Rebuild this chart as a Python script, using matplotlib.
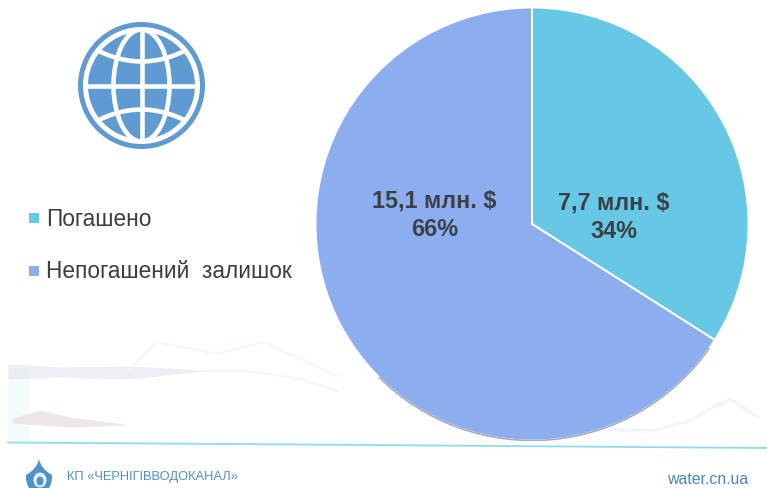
import matplotlib
matplotlib.use("Agg")
import matplotlib.pyplot as plt
from matplotlib.patches import Arc, Circle, Ellipse, PathPatch, Rectangle
from matplotlib.path import Path

W, H = 767, 489

labels = ["Погашено", "Непогашений  залишок"]
shares = [34, 66]
slice_text = ["7,7 млн. $\n34%", "15,1 млн. $\n66%"]
colors = ["#67c8e6", "#8caeee"]

plt.rcParams["font.family"] = ["Liberation Sans", "DejaVu Sans"]

fig = plt.figure(figsize=(W / 100, H / 100), dpi=100, facecolor="white")

# pixel layer for the slide decoration
bg = fig.add_axes([0, 0, 1, 1])
bg.set_xlim(0, W)
bg.set_ylim(H, 0)
bg.axis("off")

# faint mountains from the slide background
ridge1_x = [130, 157, 217, 263, 300, 337]
ridge1_y = [370, 343, 355, 343, 360, 377]
ridge2_x = [200, 250, 300, 337]
ridge2_y = [372, 372, 380, 392]
ridge3_x = [600, 650, 690, 710, 730, 757]
ridge3_y = [430, 432, 422, 410, 400, 418]
bg.fill_between([8, 30], [370, 370], [442, 442], color="#f3fbfd", lw=0)
bg.fill_between([8, 60, 130, 205], [365, 368, 367, 371], [380, 378, 380, 372], color="#eaeaf2", alpha=0.8, lw=0)
bg.fill_between([12, 40, 70, 125], [419, 411, 418, 425], [424, 426, 428, 426], color="#ece4ea", alpha=0.9, lw=0)
bg.plot(ridge1_x, ridge1_y, color="#f0f8fa", lw=1.5)
bg.plot(ridge2_x, ridge2_y, color="#f2f7f9", lw=1.5)
bg.plot(ridge3_x, ridge3_y, color="#f0f6f9", lw=2.5)
bg.plot([8, 300, 767], [443.5, 445.5, 449], color="#8fdbe8", lw=1.3)

# globe icon
gx, gy = 141.5, 86.5
blue = "#5f9bd2"
bg.add_patch(Circle((gx, gy), 63.5, fc=blue, lw=0))
bg.add_patch(Circle((gx, gy), 58.5, fc="white", lw=0))
bg.add_patch(Circle((gx, gy), 53.5, fc=blue, lw=0))
clip = Circle((gx, gy), 55, transform=bg.transData)
globe_lines = [
    Ellipse((gx, gy), 56, 112, fc="none", ec="white", lw=3.3),
    PathPatch(Path([(gx - 56, gy - 42), (gx, gy - 6), (gx + 56, gy - 42)], [Path.MOVETO, Path.CURVE3, Path.CURVE3]), fc="none", ec="white", lw=3.3),
    PathPatch(Path([(gx - 56, gy + 42), (gx, gy + 6), (gx + 56, gy + 42)], [Path.MOVETO, Path.CURVE3, Path.CURVE3]), fc="none", ec="white", lw=3.3),
]
for p in globe_lines:
    bg.add_patch(p)
    p.set_clip_path(clip)
bg.plot([gx, gx], [gy - 55, gy + 55], color="white", lw=3.3, solid_capstyle="butt")
bg.plot([gx - 55, gx + 55], [gy, gy], color="white", lw=3.3, solid_capstyle="butt")

# legend
legend_y = [219, 272]
for lab, col, ly in zip(labels, colors, legend_y):
    bg.add_patch(Rectangle((29, ly - 5), 10, 10, fc=col, lw=0))
    bg.text(46, ly, lab, fontsize=16.3, color="#3a3d48", va="center", ha="left")

# footer logo and text
drop = Path([(39, 460), (41, 470), (52, 476), (53, 490), (39, 498), (25, 490), (26, 476), (37, 470), (39, 460)],
            [Path.MOVETO, Path.CURVE3, Path.CURVE3, Path.CURVE3, Path.CURVE3, Path.CURVE3, Path.CURVE3, Path.CURVE3, Path.CURVE3])
bg.add_patch(PathPatch(drop, fc="#4f93c8", lw=0))
bg.add_patch(Ellipse((40, 481), 13, 15, fc="#e8f3fa", lw=0))
bg.add_patch(Ellipse((40, 482), 7, 9, fc="#4f93c8", lw=0))
bg.text(67, 477, "КП «ЧЕРНІГІВВОДОКАНАЛ»", fontsize=9.3, color="#4f90c4", va="center", ha="left")
bg.text(748, 480, "water.cn.ua", fontsize=11.4, color="#4a87b8", va="center", ha="right")

# pie
cx, cy, r = 532, 225, 216.5
ax = fig.add_axes([(cx - r) / W, 1 - (cy + r) / H, 2 * r / W, 2 * r / H])
ax.pie(shares, colors=colors, startangle=90, counterclock=False, radius=1,
       wedgeprops={"edgecolor": "white", "linewidth": 1.4})
ax.add_patch(Arc((0, 0), 2, 2, theta1=225, theta2=325, color="#a6abbd", lw=1.2))
ax.set_xlim(-1, 1)
ax.set_ylim(-1, 1)
ax.text(0.378, 0.035, slice_text[0], fontsize=16.8, fontweight="bold", color="#3c4048", ha="center", va="center", linespacing=1.3)
ax.text(-0.45, 0.045, slice_text[1], fontsize=16.8, fontweight="bold", color="#3c4048", ha="center", va="center", linespacing=1.3)

fig.savefig("out.png", dpi=100)
